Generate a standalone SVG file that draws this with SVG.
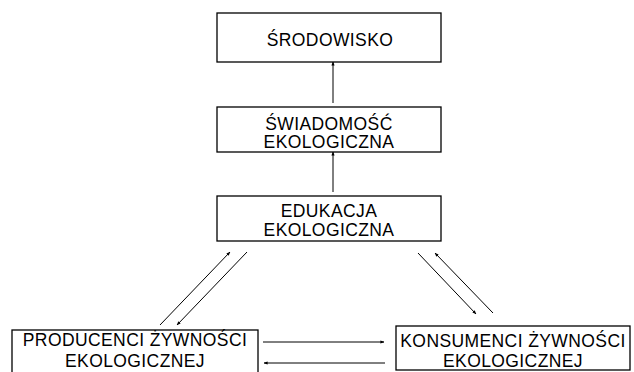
<svg xmlns="http://www.w3.org/2000/svg" width="634" height="372" viewBox="0 0 634 372">
<defs>
<marker id="ah" viewBox="0 0 10 10" refX="9" refY="5" markerWidth="4" markerHeight="4" orient="auto" markerUnits="userSpaceOnUse">
<path d="M0,1 L10,5 L0,9 Z" fill="#000"/>
</marker>
<style>
.box{fill:#fff;stroke:#000;stroke-width:1.3}
.t{font-family:"Liberation Sans",Arial,sans-serif;font-size:17.5px;letter-spacing:0.4px;fill:#000;text-anchor:middle}
.c{stroke:#000;stroke-width:1;fill:none;marker-end:url(#ah)}
</style>
</defs>
<rect width="634" height="372" fill="#fff"/>
<g id="srodowisko">
<rect class="box" x="217" y="13" width="224" height="49"/>
<text class="t" x="330" y="46">ŚRODOWISKO</text>
</g>
<g id="swiadomosc">
<rect class="box" x="217" y="107" width="224" height="45"/>
<text class="t" x="329" y="130">ŚWIADOMOŚĆ</text>
<text class="t" x="329" y="148">EKOLOGICZNA</text>
</g>
<g id="edukacja">
<rect class="box" x="217" y="196" width="224" height="45"/>
<text class="t" x="329" y="217">EDUKACJA</text>
<text class="t" x="329" y="236">EKOLOGICZNA</text>
</g>
<g id="producenci">
<rect class="box" x="12" y="330" width="246" height="50"/>
<text class="t" x="135" y="346">PRODUCENCI ŻYWNOŚCI</text>
<text class="t" x="135" y="367">EKOLOGICZNEJ</text>
</g>
<g id="konsumenci">
<rect class="box" x="396" y="326" width="234" height="44"/>
<text class="t" x="513" y="347">KONSUMENCI ŻYWNOŚCI</text>
<text class="t" x="513" y="367">EKOLOGICZNEJ</text>
</g>
<g id="connectors">
<line class="c" x1="333" y1="103" x2="333" y2="62"/>
<line class="c" x1="333" y1="192" x2="333" y2="152"/>
<line class="c" x1="160" y1="325" x2="230" y2="252"/>
<line class="c" x1="247" y1="252" x2="177" y2="325"/>
<line class="c" x1="418" y1="253" x2="476" y2="314"/>
<line class="c" x1="493" y1="313" x2="435" y2="253"/>
<line class="c" x1="263" y1="342" x2="384" y2="342"/>
<line class="c" x1="385" y1="363" x2="264" y2="363"/>
</g>
</svg>
